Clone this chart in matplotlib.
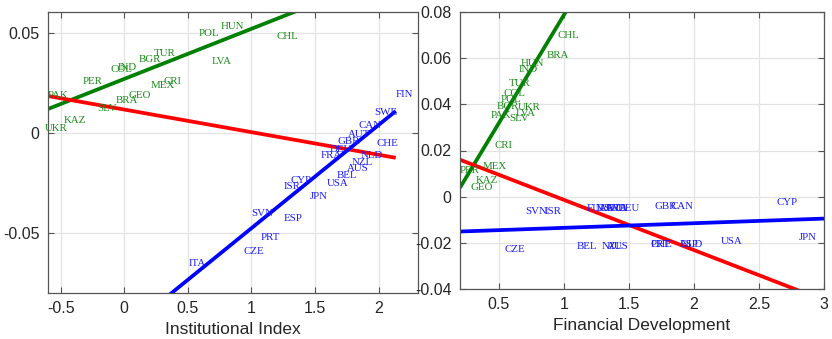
import matplotlib
matplotlib.use("Agg")
import matplotlib.pyplot as plt
import numpy as np

plt.rcParams['axes.unicode_minus'] = False

# ---------------- data ----------------
green_codes = ["PAK", "PER", "COL", "IND", "BGR", "TUR", "MEX", "CRI", "GEO", "BRA",
               "SLV", "KAZ", "UKR", "POL", "HUN", "CHL", "LVA"]
blue_codes = ["FIN", "SWE", "CAN", "AUT", "GBR", "CHE", "DEU", "FRA", "NLD", "NZL", "AUS",
              "BEL", "USA", "CYP", "ISR", "JPN", "SVN", "ESP", "PRT", "CZE", "ITA"]

# Panel 1: Institutional Index
inst_green_x = [-0.602, -0.327, -0.108, -0.053, 0.112, 0.23, 0.21, 0.31, 0.035, -0.07,
                -0.21, -0.476, -0.625, 0.582, 0.755, 1.2, 0.69]
inst_green_y = [0.019, 0.026, 0.032, 0.033, 0.037, 0.040, 0.024, 0.026, 0.019, 0.0165,
                0.0125, 0.0065, 0.0025, 0.0495, 0.0535, 0.0485, 0.036]
inst_blue_x = [2.135, 1.963, 1.84, 1.76, 1.68, 1.98, 1.618, 1.547, 1.86, 1.79, 1.75,
               1.67, 1.594, 1.31, 1.25, 1.46, 1.0, 1.257, 1.076, 0.935, 0.504]
inst_blue_y = [0.0195, 0.0105, 0.004, -0.0005, -0.004, -0.005, -0.008, -0.011, -0.011,
               -0.0145, -0.0175, -0.021, -0.025, -0.0235, -0.0265, -0.0315, -0.04,
               -0.0425, -0.052, -0.059, -0.0655]

# Panel 2: Financial Development
fin_green_x = [0.437, 0.2, 0.536, 0.651, 0.483, 0.575, 0.376, 0.468, 0.284, 0.865,
               0.582, 0.322, 0.643, 0.513, 0.666, 0.949, 0.628]
fin_green_y = [0.035, 0.0112, 0.0445, 0.0553, 0.039, 0.049, 0.013, 0.022, 0.0039, 0.061,
               0.0337, 0.0069, 0.0385, 0.042, 0.0575, 0.070, 0.036]
fin_blue_x = [1.171, 1.301, 1.821, 1.27, 1.698, 1.668, 1.416, 1.331, 1.897, 1.286, 1.331,
              1.094, 2.203, 2.631, 0.85, 2.807, 0.705, 1.89, 1.668, 0.544, 1.255]
fin_blue_y = [-0.0052, -0.0052, -0.0043, -0.0052, -0.0043, -0.0207, -0.0052, -0.0052,
              -0.0207, -0.0216, -0.0216, -0.0216, -0.0194, -0.0026, -0.0065, -0.0177,
              -0.0065, -0.0207, -0.0207, -0.0229, -0.0052]

# fitted lines (slope, intercept)
inst_fit_green = (0.02506, 0.02704)
inst_fit_red = (-0.0113, 0.01172)
inst_fit_blue = (0.0516, -0.0992)
fin_fit_green = (0.0936, -0.01482)
fin_fit_red = (-0.02175, 0.02035)
fin_fit_blue = (0.002, -0.0155)

inst_xticks = [-0.5, 0, 0.5, 1, 1.5, 2]
inst_xticklabels = ["-0.5", "0", "0.5", "1", "1.5", "2"]
inst_yticks = [-0.05, 0, 0.05]
inst_yticklabels = ["-0.05", "0", "0.05"]
fin_xticks = [0.5, 1, 1.5, 2, 2.5, 3]
fin_xticklabels = ["0.5", "1", "1.5", "2", "2.5", "3"]
fin_yticks = [-0.04, -0.02, 0, 0.02, 0.04, 0.06, 0.08]
fin_yticklabels = ["-0.04", "-0.02", "0", "0.02", "0.04", "0.06", "0.08"]

GREEN = "#008000"
RED = "#ff0000"
BLUE = "#0000ff"
AXC = "#262626"

fig = plt.figure(figsize=(8.32, 3.39), dpi=100)
W, H = 832, 339

def make_ax(l, r, t, b):
    return fig.add_axes([l / W, 1 - b / H, (r - l) / W, (b - t) / H])

ax1 = make_ax(48, 418, 12, 293)
ax2 = make_ax(460, 824, 12, 289)

def style(ax, xlim, ylim, xt, xtl, yt, ytl, xlabel):
    ax.set_xlim(*xlim)
    ax.set_ylim(*ylim)
    ax.set_xticks(xt)
    ax.set_xticklabels(xtl)
    ax.set_yticks(yt)
    ax.set_yticklabels(ytl)
    ax.grid(True, color="#e3e3e3", lw=0.9)
    ax.set_axisbelow(True)
    for s in ax.spines.values():
        s.set_color("#555555")
        s.set_linewidth(0.9)
    ax.tick_params(direction="in", top=True, right=True, length=4, width=0.8,
                   colors="#555555", labelcolor=AXC, labelsize=11.5, pad=6)
    for lab in ax.get_xticklabels() + ax.get_yticklabels():
        lab.set_family("Liberation Sans")
    ax.set_xlabel(xlabel, fontsize=12.5, color=AXC, family="Liberation Sans", labelpad=4)

def draw_line(ax, fit, lo, hi, color):
    xs = np.array([lo, hi])
    ax.plot(xs, fit[0] * xs + fit[1], color=color, lw=2.7, solid_capstyle="butt")

def labels(ax, codes, xs, ys, color):
    for c, x, y in zip(codes, xs, ys):
        ax.text(x, y, c, color=color, fontsize=7.8, family="Liberation Serif",
                ha="left", va="center")

# Panel 1
style(ax1, (-0.6, 2.31), (-0.08, 0.0605), inst_xticks, inst_xticklabels,
      inst_yticks, inst_yticklabels, "Institutional Index")
all_x1 = inst_green_x + inst_blue_x
lo1, hi1 = min(all_x1), max(all_x1)
draw_line(ax1, inst_fit_green, lo1, hi1, GREEN)
draw_line(ax1, inst_fit_red, lo1, hi1, RED)
draw_line(ax1, inst_fit_blue, lo1, hi1, BLUE)
labels(ax1, green_codes, inst_green_x, inst_green_y, "#1a8a1a")
labels(ax1, blue_codes, inst_blue_x, inst_blue_y, "#1a1aff")

# Panel 2
style(ax2, (0.2, 3.0), (-0.04, 0.08), fin_xticks, fin_xticklabels,
      fin_yticks, fin_yticklabels, "Financial Development")
lo2, hi2 = ax2.get_xlim()
draw_line(ax2, fin_fit_green, lo2, hi2, GREEN)
draw_line(ax2, fin_fit_red, lo2, hi2, RED)
draw_line(ax2, fin_fit_blue, lo2, hi2, BLUE)
labels(ax2, green_codes, fin_green_x, fin_green_y, "#1a8a1a")
labels(ax2, blue_codes, fin_blue_x, fin_blue_y, "#1a1aff")

fig.savefig("out.png", dpi=100)
